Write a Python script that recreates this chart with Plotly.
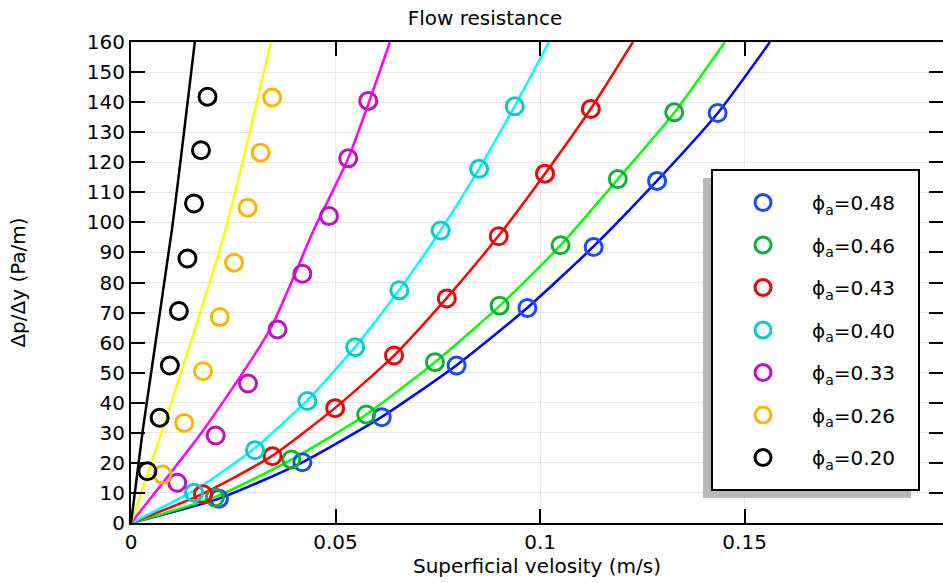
import plotly.graph_objects as go

# Porosity labels (legend order)
labels = ["0.48", "0.46", "0.43", "0.40", "0.33", "0.26", "0.20"]

# Measured points: superficial velocity (m/s) and pressure gradient (Pa/m)
meas_x = {
    "0.48": [0.0215, 0.0419, 0.0613, 0.0796, 0.0969, 0.1131, 0.1286, 0.1434],
    "0.46": [0.0205, 0.0392, 0.0575, 0.0743, 0.0901, 0.1050, 0.1190, 0.1328],
    "0.43": [0.0176, 0.0346, 0.0499, 0.0643, 0.0772, 0.0899, 0.1012, 0.1124],
    "0.40": [0.0154, 0.0303, 0.0431, 0.0548, 0.0656, 0.0757, 0.0851, 0.0938],
    "0.33": [0.0113, 0.0207, 0.0286, 0.0358, 0.0419, 0.0484, 0.0531, 0.0580],
    "0.26": [0.0077, 0.0130, 0.0176, 0.0217, 0.0252, 0.0285, 0.0317, 0.0345],
    "0.20": [0.0040, 0.0070, 0.0095, 0.0117, 0.0138, 0.0154, 0.0171, 0.0187],
}
meas_y = {
    "0.48": [8.1, 20.2, 35.2, 52.4, 71.5, 91.8, 113.8, 136.4],
    "0.46": [8.5, 21.1, 36.1, 53.5, 72.3, 92.4, 114.4, 136.6],
    "0.43": [9.6, 22.2, 38.2, 55.7, 74.7, 95.4, 116.2, 137.7],
    "0.40": [10.1, 24.2, 40.6, 58.5, 77.4, 97.3, 117.8, 138.6],
    "0.33": [13.4, 29.1, 46.4, 64.4, 82.9, 102.1, 121.3, 140.4],
    "0.26": [16.1, 33.3, 50.5, 68.5, 86.6, 104.9, 123.2, 141.5],
    "0.20": [17.2, 35.0, 52.4, 70.5, 88.0, 106.3, 124.0, 141.8],
}

# Simulated curves
sim_x = {
    "0.48": [0, 0.0215, 0.0419, 0.0613, 0.0795, 0.0969, 0.1130, 0.1285, 0.1434, 0.1562],
    "0.46": [0, 0.0205, 0.0392, 0.0575, 0.0743, 0.0902, 0.1051, 0.1191, 0.1328, 0.1452],
    "0.43": [0, 0.0176, 0.0346, 0.0499, 0.0643, 0.0771, 0.0899, 0.1012, 0.1124, 0.1227],
    "0.40": [0, 0.0158, 0.0296, 0.0431, 0.0548, 0.0655, 0.0757, 0.0851, 0.0938, 0.1022],
    "0.33": [0, 0.0178, 0.0340, 0.0447, 0.0531, 0.0633],
    "0.26": [0, 0.0077, 0.0231, 0.0342],
    "0.20": [0, 0.0029, 0.0100, 0.0156],
}
sim_y = {
    "0.48": [0, 8.1, 20.2, 35.3, 52.4, 71.6, 91.9, 113.7, 136.3, 160],
    "0.46": [0, 8.6, 21.1, 36.1, 53.5, 72.3, 92.5, 114.5, 136.5, 160],
    "0.43": [0, 9.8, 22.4, 38.3, 55.7, 74.7, 95.6, 116.2, 137.8, 160],
    "0.40": [0, 11.1, 24.2, 40.8, 58.6, 77.4, 97.4, 117.9, 138.7, 160],
    "0.33": [0, 31.1, 64.4, 97.6, 121.3, 160],
    "0.26": [0, 31.1, 97.6, 160],
    "0.20": [0, 31.1, 97.6, 160],
}

line_colors = {
    "0.48": "#0000FF", "0.46": "#00FF00", "0.43": "#FF0000", "0.40": "#00FFFF",
    "0.33": "#FF00FF", "0.26": "#FFFF00", "0.20": "#000000",
}
marker_colors = {
    "0.48": "#1A4CFF", "0.46": "#10B038", "0.43": "#F00000", "0.40": "#00CCCC",
    "0.33": "#C010C0", "0.26": "#FFB400", "0.20": "#000000",
}

FONT = "DejaVu Sans"
fig = go.Figure()

for k in labels:
    fig.add_trace(go.Scatter(
        x=sim_x[k], y=sim_y[k], mode="lines",
        line=dict(color=line_colors[k], width=2.5, shape="spline", smoothing=0.6),
        showlegend=False, hoverinfo="skip",
    ))

for k in labels:
    fig.add_trace(go.Scatter(
        x=meas_x[k], y=meas_y[k], mode="markers",
        name="ϕ<sub>a</sub>=" + k, legendgroup=k,
        marker=dict(symbol="circle-open", size=17, color=marker_colors[k],
                    line=dict(width=3, color=marker_colors[k])),
    ))

W, H = 943, 583
L, R, T, B = 131, 0, 42, 60
pw, ph = W - L - R, H - T - B


def px_x(p):
    return (p - L) / pw


def px_y(p):
    return (H - B - p) / ph


# Legend frame with drop shadow
fig.add_shape(type="rect", xref="paper", yref="paper",
              x0=px_x(703), x1=px_x(911), y0=px_y(498), y1=px_y(178),
              line=dict(width=0), fillcolor="#b8b8b8", layer="above")
fig.add_shape(type="rect", xref="paper", yref="paper",
              x0=px_x(712), x1=px_x(919), y0=px_y(490), y1=px_y(170),
              line=dict(width=2, color="black"), fillcolor="white", layer="above")

axis_common = dict(
    showline=True, linecolor="black", linewidth=2, mirror="ticks",
    ticks="inside", ticklen=14, tickwidth=2, tickcolor="black",
    showgrid=True, gridcolor="#e6e6e6", gridwidth=1, zeroline=False,
    tickfont=dict(family=FONT, size=20, color="black"),
)

fig.update_layout(
    width=W, height=H,
    margin=dict(l=L, r=R, t=T, b=B, autoexpand=False),
    paper_bgcolor="white", plot_bgcolor="white",
    font=dict(family=FONT, size=20, color="black"),
    title=dict(text="Flow resistance", x=485 / W, xanchor="center",
               y=1 - 18 / H, yanchor="middle",
               font=dict(family=FONT, size=20, color="black")),
    xaxis=dict(range=[0, 0.1985], tickvals=[0, 0.05, 0.1, 0.15],
               ticktext=["0", "0.05", "0.1", "0.15"],
               title=dict(text="Superficial velosity (m/s)", standoff=4,
                          font=dict(family=FONT, size=20)),
               **axis_common),
    yaxis=dict(range=[0, 160], dtick=10,
               title=dict(text="Δp/Δy (Pa/m)", standoff=56,
                          font=dict(family=FONT, size=20)),
               **axis_common),
    legend=dict(x=px_x(714), y=px_y(183), xanchor="left", yanchor="top",
                bgcolor="rgba(0,0,0,0)", borderwidth=0,
                font=dict(family=FONT, size=20, color="black"),
                tracegroupgap=13.5, itemwidth=88),
)

fig.write_html("out.html")
